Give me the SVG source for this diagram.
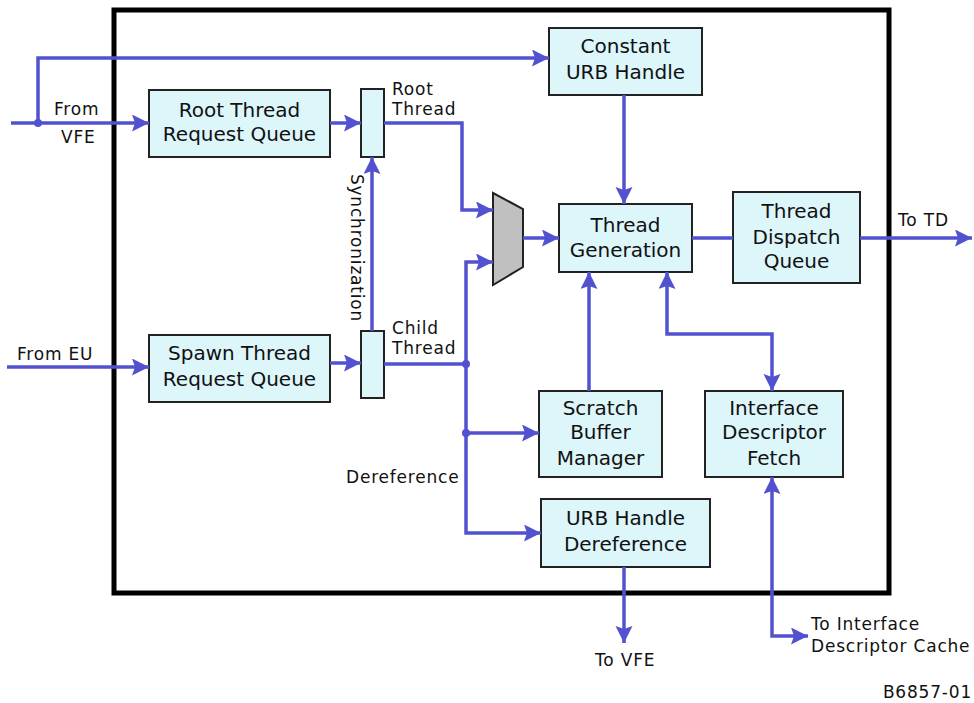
<svg xmlns="http://www.w3.org/2000/svg" width="974" height="703" viewBox="0 0 974 703">
<style>
.box{fill:#dcf6fa;stroke:#222;stroke-width:2}
.bt{font-family:"DejaVu Sans",Verdana,sans-serif;font-size:20px;fill:#111;text-anchor:middle}
.lb{font-family:"DejaVu Sans",Verdana,sans-serif;font-size:17px;fill:#111;letter-spacing:0.8px}
.c{fill:none;stroke:#5252d0;stroke-width:3.5}
.dot{fill:#5252d0}
</style>
<defs>
<marker id="ah" markerUnits="userSpaceOnUse" markerWidth="18" markerHeight="18" refX="17" refY="8.5" orient="auto-start-reverse">
<path d="M0,0 L17,8.5 L0,17 L3,8.5 z" fill="#5252d0"/>
</marker>
</defs>
<rect x="114" y="10" width="775" height="583" fill="#fff" stroke="#000" stroke-width="5"/>

<g id="root-queue"><rect class="box" x="149" y="90" width="181" height="67"/><text class="bt" x="239.5" y="117">Root Thread</text><text class="bt" x="239.5" y="141">Request Queue</text></g>
<g id="root-sync"><rect class="box" x="361" y="89" width="23" height="68"/></g>
<g id="spawn-queue"><rect class="box" x="149" y="335" width="181" height="67"/><text class="bt" x="239.5" y="360">Spawn Thread</text><text class="bt" x="239.5" y="386">Request Queue</text></g>
<g id="child-sync"><rect class="box" x="361" y="331" width="23" height="67"/></g>
<g id="constant-urb"><rect class="box" x="549" y="28" width="153" height="67"/><text class="bt" x="625.5" y="53">Constant</text><text class="bt" x="625.5" y="79">URB Handle</text></g>
<g id="mux"><polygon points="493,193 523,209 523,267 493,285" fill="#c0c0c0" stroke="#222" stroke-width="2"/></g>
<g id="thread-gen"><rect class="box" x="559" y="204" width="133" height="68"/><text class="bt" x="625.5" y="232">Thread</text><text class="bt" x="625.5" y="257">Generation</text></g>
<g id="dispatch-queue"><rect class="box" x="733" y="192" width="127" height="91"/><text class="bt" x="796.5" y="218">Thread</text><text class="bt" x="796.5" y="244">Dispatch</text><text class="bt" x="796.5" y="268">Queue</text></g>
<g id="scratch"><rect class="box" x="539" y="391" width="123" height="86"/><text class="bt" x="600.5" y="415">Scratch</text><text class="bt" x="600.5" y="439">Buffer</text><text class="bt" x="600.5" y="465">Manager</text></g>
<g id="idf"><rect class="box" x="705" y="391" width="138" height="86"/><text class="bt" x="774" y="415">Interface</text><text class="bt" x="774" y="439">Descriptor</text><text class="bt" x="774" y="465">Fetch</text></g>
<g id="urb-deref"><rect class="box" x="541" y="499" width="169" height="68"/><text class="bt" x="625.5" y="525">URB Handle</text><text class="bt" x="625.5" y="551">Dereference</text></g>

<g id="connectors">
<path class="c" d="M11,123 H149" marker-end="url(#ah)"/>
<path class="c" d="M38,123 V58 H549" marker-end="url(#ah)"/>
<path class="c" d="M330,123 H361" marker-end="url(#ah)"/>
<path class="c" d="M384,123 H462 V210 H493" marker-end="url(#ah)"/>
<path class="c" d="M7,367 H149" marker-end="url(#ah)"/>
<path class="c" d="M330,363 H361" marker-end="url(#ah)"/>
<path class="c" d="M372,331 V157" marker-end="url(#ah)"/>
<path class="c" d="M384,364 H466 V262 H493" marker-end="url(#ah)"/>
<path class="c" d="M466,364 V533 H541" marker-end="url(#ah)"/>
<path class="c" d="M466,433 H539" marker-end="url(#ah)"/>
<path class="c" d="M523,238 H559" marker-end="url(#ah)"/>
<path class="c" d="M624,95 V204" marker-end="url(#ah)"/>
<path class="c" d="M692,238 H733"/>
<path class="c" d="M860,238 H972" marker-end="url(#ah)"/>
<path class="c" d="M589,391 V272" marker-end="url(#ah)"/>
<path class="c" d="M667,272 V334 H772 V391" marker-start="url(#ah)" marker-end="url(#ah)"/>
<path class="c" d="M624,567 V643" marker-end="url(#ah)"/>
<path class="c" d="M772,477 V636 H808" marker-start="url(#ah)" marker-end="url(#ah)"/>
<circle class="dot" cx="38" cy="123" r="4"/>
<circle class="dot" cx="466" cy="364" r="4"/>
<circle class="dot" cx="466" cy="433" r="4"/>
</g>

<g id="labels">
<text class="lb" x="54" y="115">From</text>
<text class="lb" x="61" y="143">VFE</text>
<text class="lb" x="17" y="360">From EU</text>
<text class="lb" x="392" y="95">Root</text>
<text class="lb" x="392" y="115">Thread</text>
<text class="lb" x="392" y="334">Child</text>
<text class="lb" x="392" y="354">Thread</text>
<text class="lb" transform="translate(351,248) rotate(90)" text-anchor="middle">Synchronization</text>
<text class="lb" x="346" y="483">Dereference</text>
<text class="lb" x="898" y="226">To TD</text>
<text class="lb" x="595" y="666">To VFE</text>
<text class="lb" x="811" y="630">To Interface</text>
<text class="lb" x="811" y="652">Descriptor Cache</text>
<text class="lb" x="972" y="698" text-anchor="end">B6857-01</text>
</g>
</svg>
